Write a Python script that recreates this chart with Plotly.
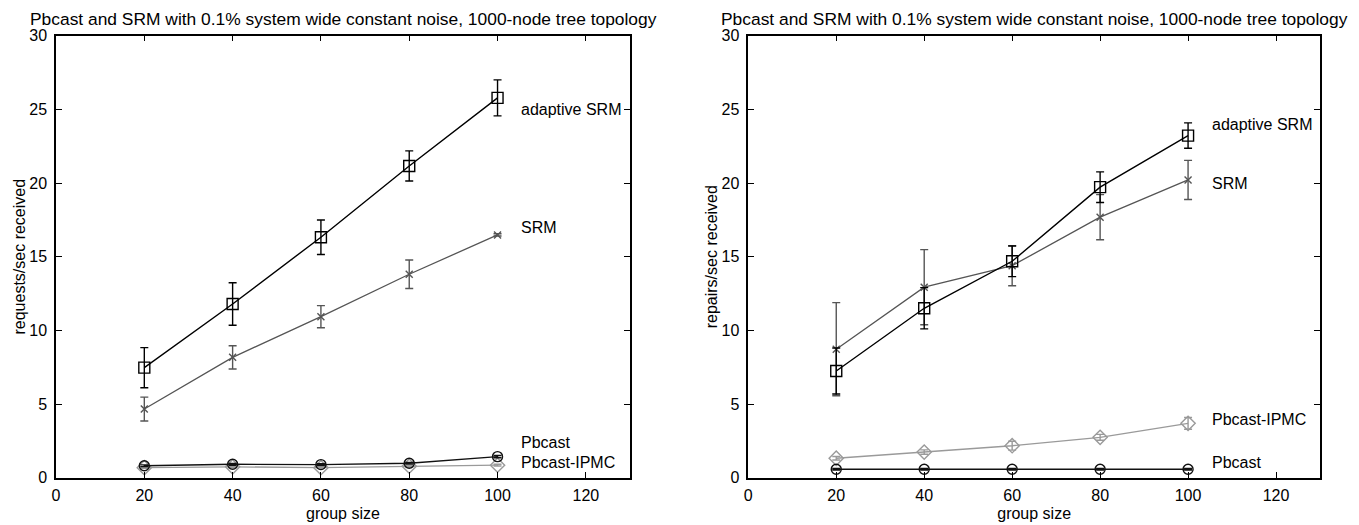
import plotly.graph_objects as go

group_size = [20, 40, 60, 80, 100]

# Left panel: requests/sec received
req_adaptive = [7.47, 11.79, 16.32, 21.16, 25.78]
req_adaptive_err = [1.36, 1.44, 1.17, 1.02, 1.22]
req_srm = [4.66, 8.17, 10.93, 13.81, 16.48]
req_srm_err = [0.81, 0.79, 0.75, 0.97, 0.08]
req_pbcast = [0.81, 0.91, 0.89, 0.98, 1.43]
req_pbcast_err = [0.06, 0.06, 0.06, 0.06, 0.08]
req_ipmc = [0.68, 0.74, 0.68, 0.78, 0.85]
req_ipmc_err = [0.05, 0.05, 0.05, 0.05, 0.06]

# Right panel: repairs/sec received
rep_adaptive = [7.24, 11.50, 14.69, 19.72, 23.22]
rep_adaptive_err = [1.56, 1.40, 1.04, 1.04, 0.86]
rep_srm = [8.72, 12.93, 14.39, 17.68, 20.21]
rep_srm_err = [3.16, 2.55, 1.36, 1.53, 1.33]
rep_pbcast = [0.57, 0.57, 0.57, 0.57, 0.57]
rep_pbcast_err = [0.05, 0.05, 0.05, 0.05, 0.05]
rep_ipmc = [1.32, 1.74, 2.17, 2.74, 3.69]
rep_ipmc_err = [0.12, 0.15, 0.3, 0.2, 0.4]

title_text = "Pbcast and SRM with 0.1% system wide constant noise, 1000-node tree topology"
x_tick_vals = [0, 20, 40, 60, 80, 100, 120]
y_tick_vals = [0, 5, 10, 15, 20, 25, 30]

FONT = "Liberation Sans, Arial, sans-serif"

styles = {
    "adaptive": dict(color="#000000", symbol="square-open", size=11, lw=1.4),
    "srm": dict(color="#555555", symbol="x-thin-open", size=7, lw=1.3),
    "pbcast": dict(color="#111111", symbol="circle-open", size=10, lw=1.4),
    "ipmc": dict(color="#9a9a9a", symbol="diamond-open", size=11, lw=1.3),
}

fig = go.Figure()

def add_series(y, err, key, xa, ya):
    st = styles[key]
    fig.add_trace(go.Scatter(
        x=group_size, y=y, mode="lines+markers",
        xaxis=xa, yaxis=ya,
        line=dict(color=st["color"], width=st["lw"]),
        marker=dict(symbol=st["symbol"], size=st["size"], color=st["color"],
                    line=dict(color=st["color"], width=1.4)),
        error_y=dict(type="data", array=err, visible=True, color=st["color"],
                     thickness=1.4, width=4),
        showlegend=False, hoverinfo="skip",
    ))

add_series(req_ipmc, req_ipmc_err, "ipmc", "x", "y")
add_series(req_pbcast, req_pbcast_err, "pbcast", "x", "y")
add_series(req_srm, req_srm_err, "srm", "x", "y")
add_series(req_adaptive, req_adaptive_err, "adaptive", "x", "y")

add_series(rep_ipmc, rep_ipmc_err, "ipmc", "x2", "y2")
add_series(rep_pbcast, rep_pbcast_err, "pbcast", "x2", "y2")
add_series(rep_srm, rep_srm_err, "srm", "x2", "y2")
add_series(rep_adaptive, rep_adaptive_err, "adaptive", "x2", "y2")

W, H = 1359, 525
OFF = 8  # page body margin
left_dom = [(56 - OFF) / W, (630 - OFF) / W]
right_dom = [(748.3 - OFF) / W, (1320 - OFF) / W]
y_dom = [1 - (477.7 - OFF) / H, 1 - (35.7 - OFF) / H]

axis_common = dict(
    showline=True, linecolor="black", linewidth=1.5, mirror="ticks",
    ticks="inside", ticklen=6, tickwidth=1, tickcolor="black",
    showgrid=False, zeroline=False, automargin=False,
    tickfont=dict(family=FONT, size=16, color="black"),
)

fig.update_layout(
    width=W, height=H,
    paper_bgcolor="white", plot_bgcolor="white",
    margin=dict(l=0, r=0, t=0, b=0, pad=0),
    font=dict(family=FONT, size=16, color="black"),
    xaxis=dict(domain=left_dom, range=[0, 130], tickvals=x_tick_vals, anchor="y",
               ticklabelstandoff=2,
               title=dict(text="group size", standoff=5, font=dict(size=16)), **axis_common),
    yaxis=dict(domain=y_dom, range=[0, 30], tickvals=y_tick_vals, anchor="x",
               ticklabelstandoff=4,
               title=dict(text="requests/sec received", standoff=0, font=dict(size=16)), **axis_common),
    xaxis2=dict(domain=right_dom, range=[0, 130], tickvals=x_tick_vals, anchor="y2",
                ticklabelstandoff=2,
                title=dict(text="group size", standoff=5, font=dict(size=16)), **axis_common),
    yaxis2=dict(domain=y_dom, range=[0, 30], tickvals=y_tick_vals, anchor="x2",
                ticklabelstandoff=4,
                title=dict(text="repairs/sec received", standoff=0, font=dict(size=16)), **axis_common),
)

# Titles
for dom in (left_dom, right_dom):
    fig.add_annotation(text=title_text, xref="paper", yref="paper",
                       x=(dom[0] + dom[1]) / 2, y=1, xanchor="center", yanchor="top",
                       showarrow=False, borderpad=0,
                       font=dict(family=FONT, size=17.4, color="black"))

# Series labels
left_labels = [("adaptive SRM", 24.96), ("SRM", 16.97), ("Pbcast", 2.38), ("Pbcast-IPMC", 1.02)]
right_labels = [("adaptive SRM", 23.94), ("SRM", 19.94), ("Pbcast-IPMC", 3.96), ("Pbcast", 1.02)]
for text, yv in left_labels:
    fig.add_annotation(text=text, x=105.1, y=yv, xref="x", yref="y", xanchor="left",
                       yanchor="middle", showarrow=False, borderpad=0,
                       font=dict(family=FONT, size=16, color="black"))
for text, yv in right_labels:
    fig.add_annotation(text=text, x=105.2, y=yv, xref="x2", yref="y2", xanchor="left",
                       yanchor="middle", showarrow=False, borderpad=0,
                       font=dict(family=FONT, size=16, color="black"))

fig.write_html("out.html")
